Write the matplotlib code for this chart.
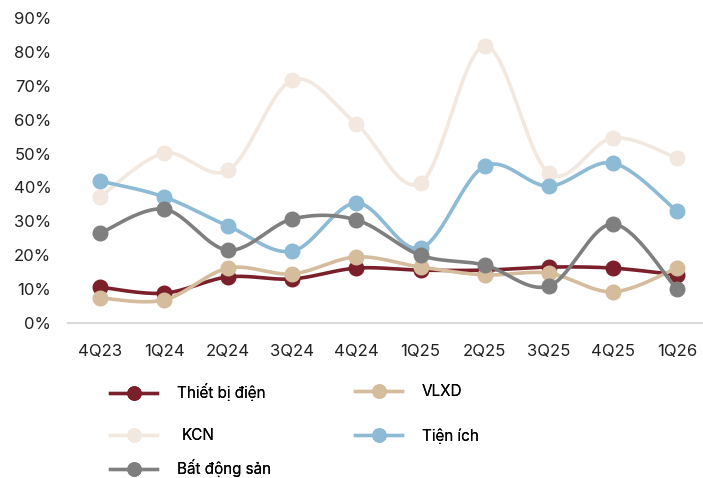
import matplotlib.pyplot as plt
import numpy as np
from matplotlib.lines import Line2D
from matplotlib.ticker import PercentFormatter

plt.rcParams['font.family'] = ['Inter', 'DejaVu Sans']

quarters = ["4Q23", "1Q24", "2Q24", "3Q24", "4Q24", "1Q25", "2Q25", "3Q25", "4Q25", "1Q26"]

thiet_bi_dien = [10.6, 8.8, 13.6, 13.0, 16.2, 15.6, 15.6, 16.5, 16.2, 14.2]
vlxd = [7.4, 6.8, 16.2, 14.5, 19.5, 16.5, 14.2, 14.7, 9.2, 16.2]
kcn = [37.2, 50.1, 45.1, 71.7, 58.7, 41.3, 81.7, 44.2, 54.6, 48.7]
tien_ich = [41.9, 37.2, 28.6, 21.2, 35.4, 22.1, 46.3, 40.4, 47.2, 33.0]
bat_dong_san = [26.5, 33.6, 21.5, 30.7, 30.4, 20.0, 17.1, 10.9, 29.2, 10.0]

series = [
    ("Thiết bị điện", thiet_bi_dien, "#7B1F2B"),
    ("VLXD", vlxd, "#D4BC9C"),
    ("KCN", kcn, "#F2E8DF"),
    ("Tiện ích", tien_ich, "#8DBAD5"),
    ("Bất động sản", bat_dong_san, "#7F7F7F"),
]


def smooth(x, y, steps=30):
    # Catmull-Rom curve through the points (like Excel's smoothed line)
    x = np.asarray(x, float)
    y = np.asarray(y, float)
    px = np.concatenate([[x[0]], x, [x[-1]]])
    py = np.concatenate([[y[0]], y, [y[-1]]])
    xs, ys = [], []
    t = np.linspace(0, 1, steps)
    for i in range(1, len(px) - 2):
        p0, p1, p2, p3 = [np.array([px[j], py[j]]) for j in (i - 1, i, i + 1, i + 2)]
        c1 = p1 + (p2 - p0) / 6
        c2 = p2 - (p3 - p1) / 6
        b = ((1 - t) ** 3)[:, None] * p1 + (3 * (1 - t) ** 2 * t)[:, None] * c1 \
            + (3 * (1 - t) * t ** 2)[:, None] * c2 + (t ** 3)[:, None] * p2
        xs.extend(b[:, 0])
        ys.extend(b[:, 1])
    return np.array(xs), np.array(ys)


fig = plt.figure(figsize=(7.03, 4.78), dpi=100)
W, H = 703, 478
ax = fig.add_axes([68 / W, 1 - 323 / H, 641 / W, (323 - 18) / H])

x = np.arange(len(quarters))
for name, vals, color in series:
    sx, sy = smooth(x, vals)
    ax.plot(sx, sy, color=color, lw=2.6, solid_capstyle='round', clip_on=False)
    ax.plot(x, vals, 'o', color=color, ms=10.5, clip_on=False)

ax.set_xlim(-0.5, len(quarters) - 0.5)
ax.set_ylim(0, 90)
ax.set_yticks(np.arange(0, 91, 10))
ax.yaxis.set_major_formatter(PercentFormatter(decimals=0))
ax.set_xticks(x)
ax.set_xticklabels(quarters)
ax.tick_params(axis='both', length=0, labelsize=12, colors='#222222')
ax.tick_params(axis='x', pad=15)
ax.tick_params(axis='y', pad=12)
for s in ['top', 'right', 'left']:
    ax.spines[s].set_visible(False)
ax.spines['bottom'].set_color('#D9D9D9')
ax.spines['bottom'].set_linewidth(1.5)

# legend entries: (handle start x, center y, text gap) in pixels
legend_pos = [(110, 392, 20), (355, 392, 19), (110, 436, 24), (355, 436, 20), (110, 468, 20)]
for (name, vals, color), (lx, ly, gap) in zip(series, legend_pos):
    h = Line2D([], [], color=color, lw=2.4, marker='o', ms=9.5)
    leg = fig.legend([h], [name], loc='center left',
                     bbox_to_anchor=(lx / W, 1 - ly / H), frameon=False,
                     fontsize=11, handlelength=3.1, handletextpad=gap / 100 * 72 / 11,
                     borderpad=0, borderaxespad=0)
    fig.add_artist(leg)

fig.savefig("out.png", dpi=100)
